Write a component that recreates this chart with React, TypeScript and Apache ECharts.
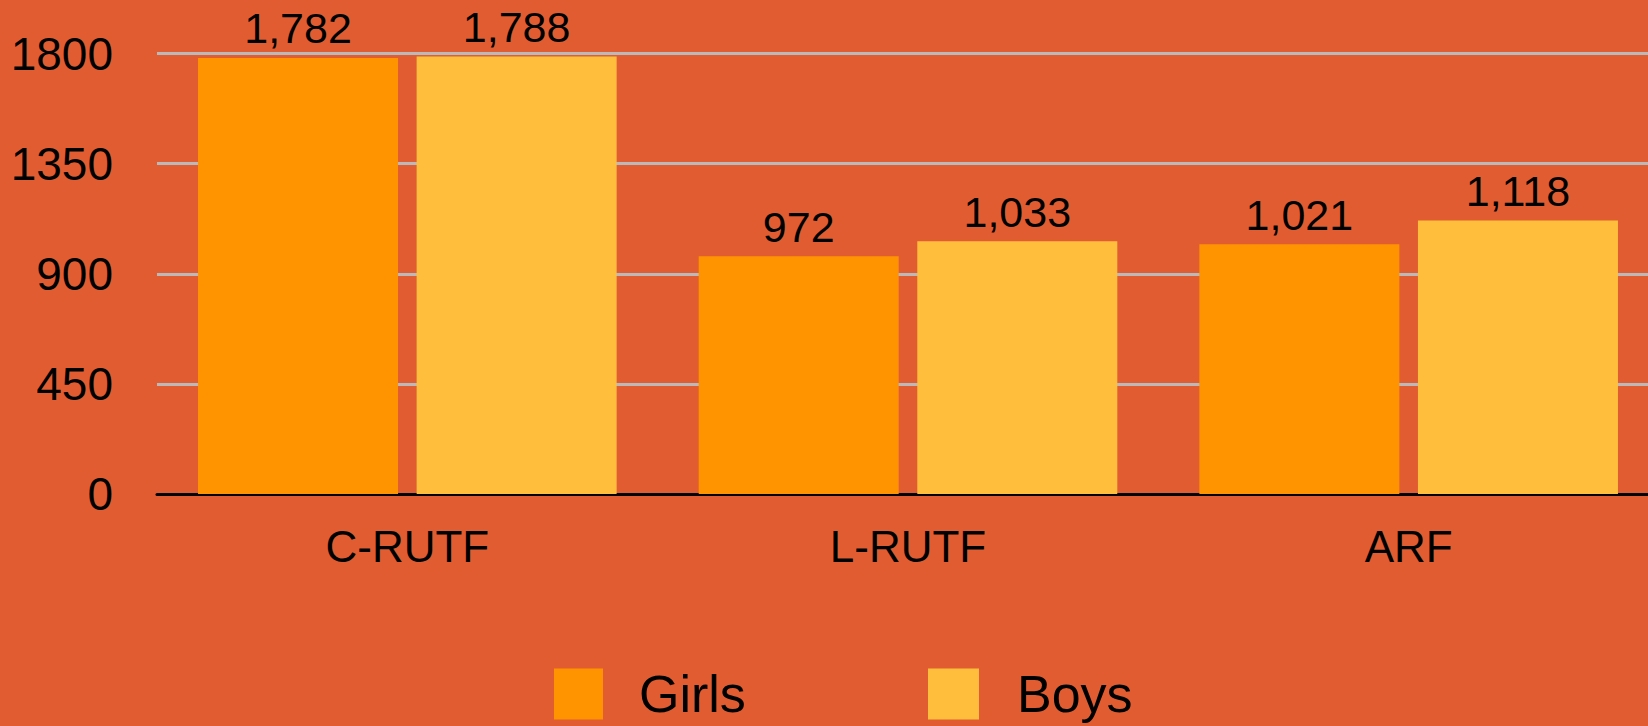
import React, { useEffect, useRef } from "react";
import * as echarts from "echarts";

const categories = ["C-RUTF", "L-RUTF", "ARF"];
const girls = [1782, 972, 1021];
const boys = [1788, 1033, 1118];
const yMax = 1800;
const yInterval = 450;

const FONT = "'Liberation Sans', Arial, sans-serif";

export default function App() {
  const ref = useRef<HTMLDivElement>(null);
  useEffect(() => {
    document.body.style.margin = "0";
    document.body.style.overflow = "hidden";
    const chart = echarts.init(ref.current!, null, { renderer: "svg" });
    const label = {
      show: true,
      position: "top",
      distance: 8,
      color: "#000",
      fontSize: 43,
      fontFamily: FONT,
      formatter: (p: any) => Number(p.value).toLocaleString("en-US"),
    };
    chart.setOption({
      animation: false,
      backgroundColor: "#E15D31",
      textStyle: { fontFamily: FONT },
      grid: {
        left: 157,
        top: 53.5,
        width: 1502,
        bottom: 232,
        containLabel: false,
        outerBoundsMode: "none",
      },
      legend: [
        {
          data: ["Girls"],
          left: 554,
          top: 668,
          padding: 0,
          itemWidth: 49,
          itemHeight: 51,
          icon: "rect",
          textStyle: { fontSize: 52, color: "#000", fontFamily: FONT, padding: [0, 0, 0, 31] },
        },
        {
          data: ["Boys"],
          left: 928,
          top: 668,
          padding: 0,
          itemWidth: 51,
          itemHeight: 51,
          icon: "rect",
          textStyle: { fontSize: 52, color: "#000", fontFamily: FONT, padding: [0, 0, 0, 33] },
        },
      ],
      xAxis: {
        type: "category",
        data: categories,
        axisLine: { show: true, lineStyle: { color: "#000", width: 3 } },
        axisTick: { show: false },
        axisLabel: { color: "#000", fontSize: 44, fontFamily: FONT, margin: 30 },
      },
      yAxis: {
        type: "value",
        min: 0,
        max: yMax,
        interval: yInterval,
        axisLine: { show: false },
        axisTick: { show: false },
        axisLabel: {
          color: "#000",
          fontSize: 46,
          fontFamily: FONT,
          margin: 44,
          formatter: (v: number) => String(v),
        },
        splitLine: { show: true, lineStyle: { color: "#BABABA", width: 3 } },
      },
      series: [
        {
          name: "Girls",
          type: "bar",
          data: girls,
          barWidth: 200,
          barGap: "9.3%",
          itemStyle: { color: "#FF9400" },
          label,
        },
        {
          name: "Boys",
          type: "bar",
          data: boys,
          barWidth: 200,
          itemStyle: { color: "#FFBF3C" },
          label,
        },
      ],
    });
    return () => chart.dispose();
  }, []);
  return <div ref={ref} style={{ width: 1648, height: 726 }} />;
}
